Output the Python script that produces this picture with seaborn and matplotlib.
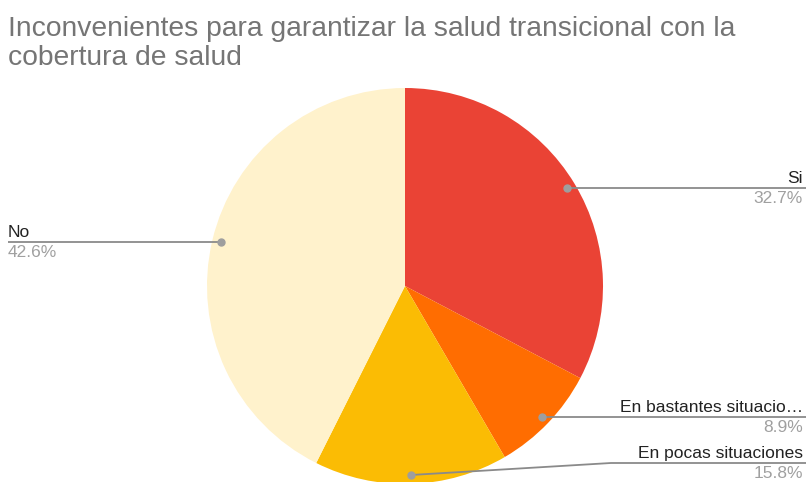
import numpy as np
import matplotlib
matplotlib.use("Agg")
import matplotlib.pyplot as plt
import seaborn as sns

# Data
categories = ["Si", "En bastantes situacio…", "En pocas situaciones", "No"]
shares = [32.7, 8.9, 15.8, 42.6]
pct_labels = ["32.7%", "8.9%", "15.8%", "42.6%"]
colors = ["#EA4335", "#FF6D01", "#FBBC04", "#FFF2CC"]
title_lines = ["Inconvenientes para garantizar la salud transicional con la",
               "cobertura de salud"]

sns.set_style("white")
plt.rcParams["font.family"] = ["Liberation Sans", "DejaVu Sans"]

W, H = 806, 482
fig = plt.figure(figsize=(W / 100, H / 100), dpi=100)
ax = fig.add_axes([0, 0, 1, 1])

# pie in pixel coordinates (y measured from bottom)
cx, cy, r = 405, H - 286, 198
wedges, _ = ax.pie(shares, colors=colors, startangle=90, counterclock=False,
                   center=(cx, cy), radius=r, frame=True,
                   wedgeprops=dict(linewidth=0))
ax.set_xlim(0, W)
ax.set_ylim(0, H)
ax.set_aspect("equal")
ax.axis("off")

for w, name, pct in zip(wedges, categories, pct_labels):
    mid = np.deg2rad((w.theta1 + w.theta2) / 2)
    dx, dy = np.cos(mid), np.sin(mid)
    px, py = cx + 0.955 * r * dx, cy + 0.955 * r * dy
    ly = max(py, H - 463)
    if dx >= 0:
        xs = [px, px + 200, W] if ly != py else [px, W]
        ys = [py, ly, ly] if ly != py else [py, ly]
        tx, ha = W - 3, "right"
    else:
        xs = [px, 8]
        ys = [py, ly]
        tx, ha = 8, "left"
    ax.plot(xs, ys, color="#8A8A8A", lw=1.3, solid_capstyle="butt")
    ax.plot([px], [py], "o", color="#9E9E9E", ms=5)
    ax.text(tx, ly + 5, name, ha=ha, va="baseline", fontsize=12.5, color="#222222")
    ax.text(tx, ly - 15, pct, ha=ha, va="baseline", fontsize=12.5, color="#A0A0A0")

for i, line in enumerate(title_lines):
    ax.text(8, H - (36 + 29 * i), line, ha="left", va="baseline", fontsize=20.3,
            color="#757575")

fig.savefig("out.png", dpi=100)
